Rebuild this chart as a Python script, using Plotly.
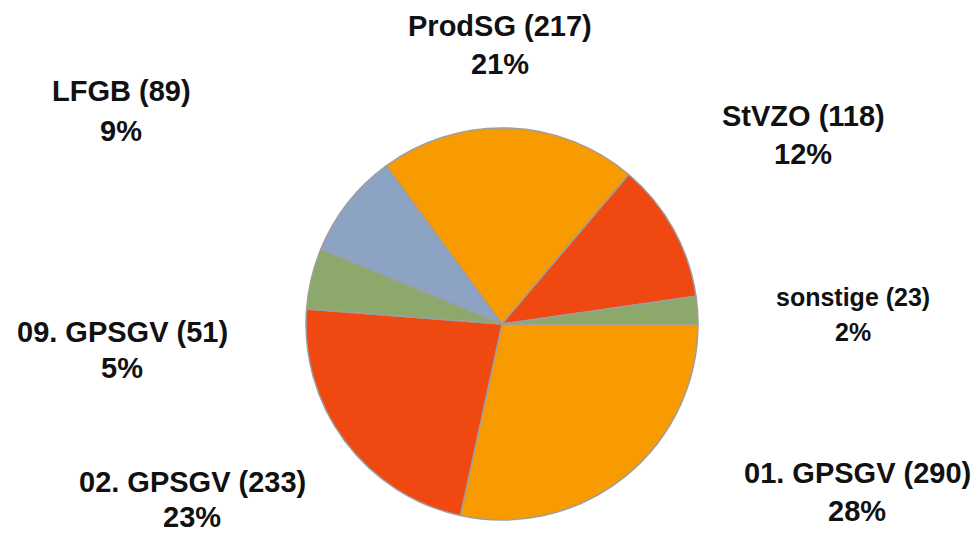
import plotly.graph_objects as go

categories = ["01. GPSGV", "02. GPSGV", "09. GPSGV", "LFGB", "ProdSG", "StVZO", "sonstige"]
values = [290, 233, 51, 89, 217, 118, 23]
colors = ["#F89B00", "#EF4811", "#8CA86A", "#8CA3C4", "#F89B00", "#EF4811", "#8CA86A"]

total = sum(values)
percents = [round(v * 100 / total) for v in values]

# label placement (pixel centres in the 980x540 window: x, line1 y, line2 y, font size)
label_pos = {
    "01. GPSGV": (857, 473, 511, 29),
    "02. GPSGV": (192, 482, 517, 29),
    "09. GPSGV": (122, 332, 368, 29),
    "LFGB": (121, 91, 131, 29),
    "ProdSG": (500, 26, 64, 29),
    "StVZO": (803, 116, 154, 29),
    "sonstige": (853, 297, 332, 25),
}

OFF = 8  # page body margin
W, H = 980 - 2 * OFF, 540 - 2 * OFF
cx, cy, diam = 502 - OFF, 324 - OFF, 392

fig = go.Figure(go.Pie(
    labels=categories,
    values=values,
    sort=False,
    direction="clockwise",
    rotation=90,
    textinfo="none",
    hoverinfo="label+value+percent",
    marker=dict(colors=colors, line=dict(color="#9E9E9E", width=1.5)),
    domain=dict(x=[(cx - diam / 2) / W, (cx + diam / 2) / W],
                y=[(H - cy - diam / 2) / H, (H - cy + diam / 2) / H]),
    showlegend=False,
))

font_family = "Liberation Sans, Arial, sans-serif"
for cat, val, pct in zip(categories, values, percents):
    x, y1, y2, fs = label_pos[cat]
    for txt, yy in ((f"<b>{cat} ({val})</b>", y1), (f"<b>{pct}%</b>", y2)):
        fig.add_annotation(
            x=(x - OFF) / W, y=1 - (yy - OFF) / H, xref="paper", yref="paper",
            text=txt, showarrow=False, xanchor="center", yanchor="middle",
            font=dict(family=font_family, size=fs, color="#111111"),
        )

fig.update_layout(
    width=W, height=H,
    margin=dict(l=0, r=0, t=0, b=0),
    paper_bgcolor="white", plot_bgcolor="white",
)

fig.write_html("out.html")
